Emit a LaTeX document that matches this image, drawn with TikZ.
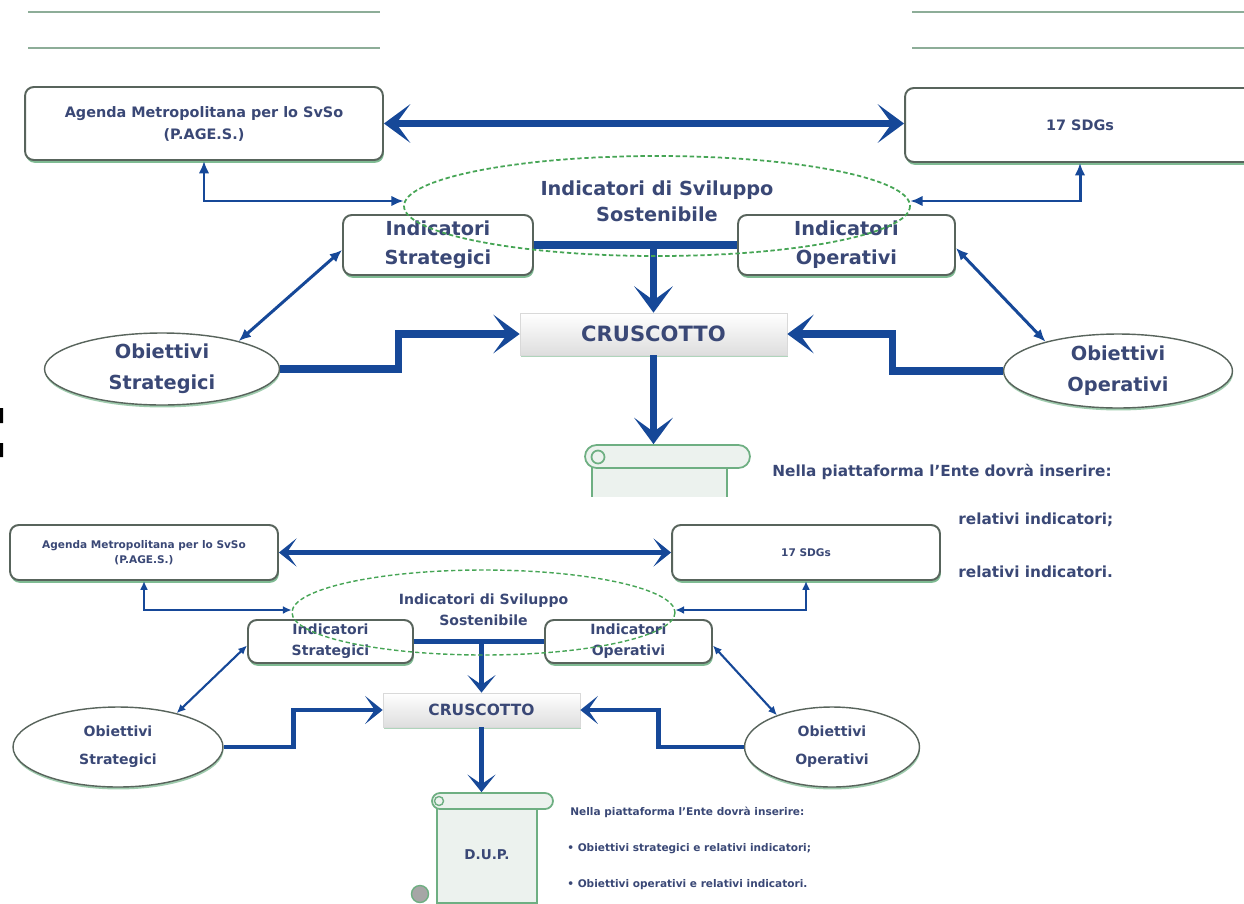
\documentclass[tikz,border=0pt]{standalone}
\usepackage{fontspec}
\setmainfont{DejaVu Sans}
\usetikzlibrary{shapes.geometric,arrows.meta,shadows}

\definecolor{arrowblue}{RGB}{22,72,152}
\definecolor{textblue}{RGB}{58,72,118}
\definecolor{boxline}{RGB}{88,100,92}
\definecolor{boxshadow}{RGB}{96,170,120}
\definecolor{dashgreen}{RGB}{70,165,85}
\definecolor{scrollline}{RGB}{110,175,130}
\definecolor{scrollfill}{RGB}{236,242,238}

\begin{document}
\begin{tikzpicture}[x=0.02cm,y=-0.02cm,
  box/.style={draw=boxline,line width=1.1pt,rounded corners=5pt,fill=white,align=center,text=textblue,inner sep=0pt,
    drop shadow={shadow xshift=0.5pt,shadow yshift=-1.6pt,fill=boxshadow,opacity=0.8}},
  oval/.style={ellipse,draw=boxline,line width=0.8pt,fill=white,align=center,text=textblue,inner sep=0pt,
    drop shadow={shadow xshift=0.3pt,shadow yshift=-1.4pt,fill=boxshadow,opacity=0.6}},
  isd/.style={ellipse,align=center,text=textblue,inner sep=0pt},
  dashring/.style={draw=dashgreen,dash pattern=on 2.5pt off 1.5pt,line width=1pt},
  cruscotto/.style={draw=black!15,top color=white,bottom color=black!13,text=textblue,inner sep=0pt,
    drop shadow={shadow xshift=0.3pt,shadow yshift=-1.2pt,fill=boxshadow,opacity=0.5}},
  scrollbody/.style={draw=scrollline,line width=1pt,fill=scrollfill,text=textblue,inner sep=0pt},
  scrollroll/.style={draw=scrollline,line width=1pt,fill=scrollfill,rounded corners},
  note/.style={anchor=west,text=textblue,inner sep=0pt},
  linkfatA/.style={draw=arrowblue,line width=4pt},
  linkthinA/.style={draw=arrowblue,line width=1.7pt},
  linkfatB/.style={draw=arrowblue,line width=2.8pt},
  linkthinB/.style={draw=arrowblue,line width=1.2pt},
  bigheadA/.tip={Stealth[length=15pt,width=22pt,inset=8pt]},
  smallheadA/.tip={Latex[length=7pt,width=6pt]},
  bigheadB/.tip={Stealth[length=10pt,width=16pt,inset=5.5pt]},
  smallheadB/.tip={Latex[length=5pt,width=4.5pt]}
]
\useasboundingbox (0,0) rectangle (1244,903);
\fill[white] (0,0) rectangle (1244,903);

% leftovers at the top and on the left edge
\draw[boxline!45!boxshadow!70!white,line width=1.4pt] (28,12) -- (380,12) (28,48) -- (380,48);
\draw[boxline!45!boxshadow!70!white,line width=1.4pt] (912,12) -- (1244,12) (912,48) -- (1244,48);
\fill[black] (0,408) rectangle (3,423) (0,443) rectangle (3,457);

%%% big diagram
\node[box,minimum width=7.16cm,minimum height=1.46cm,font=\fontsize{8.2}{12.5}\selectfont\bfseries] (agA) at (204,123.5) {Agenda Metropolitana per lo SvSo\\(P.AGE.S.)};
\node[box,minimum width=7cm,minimum height=1.48cm,font=\fontsize{8.2}{12.5}\selectfont\bfseries] (sdgA) at (1080,125) {17 SDGs};
\node[isd,minimum width=10.12cm,minimum height=2cm,font=\fontsize{11}{14.7}\selectfont\bfseries] (isdA) at (657,201) {Indicatori di Sviluppo\\Sostenibile};
\node[box,minimum width=3.8cm,minimum height=1.2cm,font=\fontsize{11}{16.4}\selectfont\bfseries] (isA) at (438,245) {Indicatori\\Strategici};
\node[box,minimum width=4.34cm,minimum height=1.2cm,font=\fontsize{11}{16.4}\selectfont\bfseries] (ioA) at (846.5,245) {Indicatori\\Operativi};
\node[cruscotto,minimum width=5.34cm,minimum height=0.84cm,font=\fontsize{12}{14}\selectfont\bfseries] (crA) at (653.5,334) {CRUSCOTTO};
\node[oval,minimum width=4.7cm,minimum height=1.44cm,font=\fontsize{11}{17.6}\selectfont\bfseries] (osA) at (162,369) {Obiettivi\\Strategici};
\node[oval,minimum width=4.58cm,minimum height=1.48cm,font=\fontsize{11}{17.6}\selectfont\bfseries] (ooA) at (1118,371) {Obiettivi\\Operativi};

% scroll
\node[scrollbody,minimum width=2.7cm,minimum height=2.6cm] (dupA) at (659.5,530) {};
\node[scrollroll,rounded corners=0.23cm,minimum width=3.3cm,minimum height=0.46cm] (rollA) at (667.5,456.5) {};
\draw[scrollline,line width=1pt,fill=scrollfill] (598,457) circle [radius=0.13cm];

\draw[linkfatA,bigheadA-bigheadA] (agA.east) -- (agA.east -| sdgA.west);
\draw[linkthinA,smallheadA-smallheadA] (agA.south) |- (isdA.west);
\draw[linkthinA,smallheadA-smallheadA] (sdgA.south) |- (isdA.east);
\draw[linkfatA] (isA.east) -- (ioA.west);
\draw[linkfatA,-bigheadA] (isA.east -| crA.north) -- (crA.north);
\draw[linkthinA,smallheadA-smallheadA] ([yshift=-0.1cm]isA.west) -- (osA.20);
\draw[linkthinA,smallheadA-smallheadA] ([yshift=-0.06cm]ioA.east) -- (ooA.158);
\draw[linkfatA,-bigheadA] (osA.east) -- ++(118,0) |- (crA.west);
\draw[linkfatA,-bigheadA] (ooA.west) -- ++(-110,0) |- (crA.east);
\draw[linkfatA,-bigheadA] (crA.south) -- (crA.south |- rollA.north);
\draw[dashring] ([yshift=-0.1cm]isdA.center) ellipse [x radius=253, y radius=50];

\node[note,font=\fontsize{8.7}{10}\selectfont\bfseries] (noteA) at (772,472) {Nella piattaforma l'Ente dovrà inserire:};
\node[note,font=\fontsize{8.7}{10}\selectfont\bfseries] (noteA1) at (958,520) {relativi indicatori;};
\node[note,font=\fontsize{8.7}{10}\selectfont\bfseries] (noteA2) at (958,572) {relativi indicatori.};

%%% small diagram on top
\fill[white] (0,497) rectangle (948,903);

\node[box,minimum width=5.36cm,minimum height=1.1cm,font=\fontsize{6}{8.5}\selectfont\bfseries] (agB) at (144,552.5) {Agenda Metropolitana per lo SvSo\\(P.AGE.S.)};
\node[box,minimum width=5.36cm,minimum height=1.1cm,font=\fontsize{6}{8.5}\selectfont\bfseries] (sdgB) at (806,552.5) {17 SDGs};
\node[isd,minimum width=7.66cm,minimum height=1.7cm,font=\fontsize{8}{12}\selectfont\bfseries] (isdB) at (483.5,610) {Indicatori di Sviluppo\\Sostenibile};
\node[box,minimum width=3.3cm,minimum height=0.86cm,font=\fontsize{8}{12}\selectfont\bfseries] (isB) at (330.5,641.5) {Indicatori\\Strategici};
\node[box,minimum width=3.34cm,minimum height=0.86cm,font=\fontsize{8}{12}\selectfont\bfseries] (ioB) at (628.5,641.5) {Indicatori\\Operativi};
\node[cruscotto,minimum width=3.94cm,minimum height=0.68cm,font=\fontsize{8.8}{10}\selectfont\bfseries] (crB) at (481.5,710) {CRUSCOTTO};
\node[oval,minimum width=4.2cm,minimum height=1.6cm,font=\fontsize{8}{16}\selectfont\bfseries] (osB) at (118,747) {Obiettivi\\Strategici};
\node[oval,minimum width=3.5cm,minimum height=1.6cm,font=\fontsize{8}{16}\selectfont\bfseries] (ooB) at (832,747) {Obiettivi\\Operativi};

% scroll
\node[scrollbody,minimum width=2cm,minimum height=1.92cm,font=\fontsize{7.7}{9}\selectfont\bfseries] (dupB) at (487,855) {D.U.P.};
\node[scrollroll,rounded corners=0.16cm,minimum width=2.42cm,minimum height=0.32cm] (rollB) at (492.5,801) {};
\draw[scrollline,line width=0.8pt,fill=scrollfill] (439,801) circle [radius=0.09cm];
\draw[scrollline,line width=0.8pt,fill=black!35] (420,894) circle [radius=0.17cm];

\draw[linkfatB,bigheadB-bigheadB] (agB.east) -- (sdgB.west);
\draw[linkthinB,smallheadB-smallheadB] (agB.south) |- (isdB.west);
\draw[linkthinB,smallheadB-smallheadB] (sdgB.south) |- (isdB.east);
\draw[linkfatB] (isB.east) -- (ioB.west);
\draw[linkfatB,-bigheadB] (isB.east -| crB.north) -- (crB.north);
\draw[linkthinB,smallheadB-smallheadB] ([yshift=-0.08cm]isB.west) -- (osB.30);
\draw[linkthinB,smallheadB-smallheadB] ([yshift=-0.08cm]ioB.east) -- (ooB.150);
\draw[linkfatB,-bigheadB] (osB.east) -- ++(70,0) |- (crB.west);
\draw[linkfatB,-bigheadB] (ooB.west) -- ++(-85,0) |- (crB.east);
\draw[linkfatB,-bigheadB] (crB.south) -- (crB.south |- rollB.north);
\draw[dashring,line width=0.8pt] ([yshift=-0.05cm]isdB.center) ellipse [x radius=191.5, y radius=42.5];

\node[note,font=\fontsize{6}{7}\selectfont\bfseries] (noteB) at (570,812) {Nella piattaforma l'Ente dovrà inserire:};
\node[note,font=\fontsize{6}{7}\selectfont\bfseries] (noteB1) at (567,849) {• Obiettivi strategici e relativi indicatori;};
\node[note,font=\fontsize{6}{7}\selectfont\bfseries] (noteB2) at (567,885) {• Obiettivi operativi e relativi indicatori.};
\end{tikzpicture}
\end{document}
